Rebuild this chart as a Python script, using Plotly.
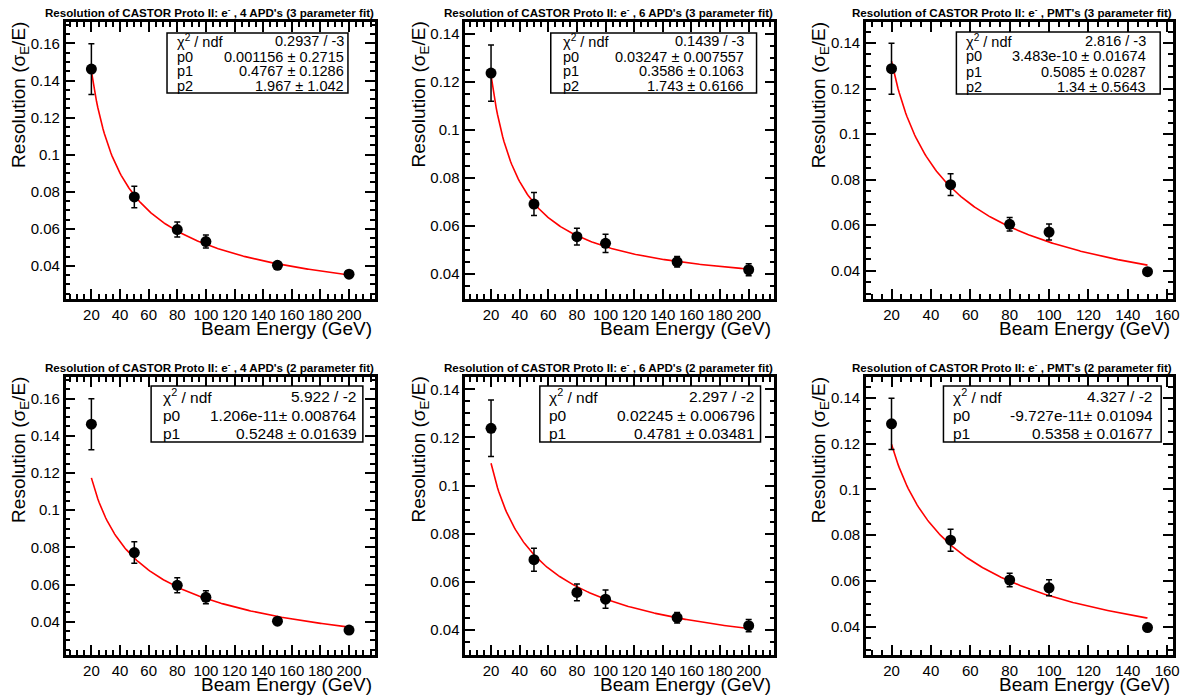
import numpy as np
import plotly.graph_objects as go

# ---------------- data ----------------
energy_apd = [20, 50, 80, 100, 150, 200]
energy_pmt = [20, 50, 80, 100, 150]

res_4apd = [0.1462, 0.0772, 0.0596, 0.0531, 0.0403, 0.0355]
err_4apd = [0.0137, 0.0058, 0.0040, 0.0035, 0.0015, 0.0012]

res_6apd = [0.1238, 0.0692, 0.0556, 0.0528, 0.0451, 0.0418]
err_6apd = [0.0117, 0.0048, 0.0035, 0.0038, 0.0022, 0.0025]

res_pmt = [0.1287, 0.0778, 0.0604, 0.0570, 0.0396]
err_pmt = [0.0112, 0.0048, 0.0030, 0.0035, 0.0010]

# fit parameters shown in the stat boxes: sigma/E = sqrt(p0^2 + p1^2/E + p2^2/E^2)
fit3_4apd = [0.001156, 0.4767, 1.967]
fit3_6apd = [0.03247, 0.3586, 1.743]
fit3_pmt = [3.483e-10, 0.5085, 1.34]
fit2_4apd = [1.206e-11, 0.5248]
fit2_6apd = [0.02245, 0.4781]
fit2_pmt = [-9.727e-11, 0.5358]

stat3_4apd = [("χ<sup>2</sup> / ndf", "0.2937 / -3"), ("p0", "0.001156 ± 0.2715"),
              ("p1", "0.4767 ± 0.1286"), ("p2", "1.967 ± 1.042")]
stat3_6apd = [("χ<sup>2</sup> / ndf", "0.1439 / -3"), ("p0", "0.03247 ± 0.007557"),
              ("p1", "0.3586 ± 0.1063"), ("p2", "1.743 ± 0.6166")]
stat3_pmt = [("χ<sup>2</sup> / ndf", "2.816 / -3"), ("p0", "3.483e-10 ± 0.01674"),
             ("p1", "0.5085 ± 0.0287"), ("p2", "1.34 ± 0.5643")]
stat2_4apd = [("χ<sup>2</sup> / ndf", "5.922 / -2"), ("p0", "1.206e-11± 0.008764"),
              ("p1", "0.5248 ± 0.01639")]
stat2_6apd = [("χ<sup>2</sup> / ndf", "2.297 / -2"), ("p0", "0.02245 ± 0.006796"),
              ("p1", "0.4781 ± 0.03481")]
stat2_pmt = [("χ<sup>2</sup> / ndf", "4.327 / -2"), ("p0", "-9.727e-11± 0.01094"),
             ("p1", "0.5358 ± 0.01677")]

titles = [
    "Resolution of CASTOR Proto II: e<sup>-</sup> , 4 APD's (3 parameter fit)",
    "Resolution of CASTOR Proto II: e<sup>-</sup> , 6 APD's (3 parameter fit)",
    "Resolution of CASTOR Proto II: e<sup>-</sup> , PMT's (3 parameter fit)",
    "Resolution of CASTOR Proto II: e<sup>-</sup> , 4 APD's (2 parameter fit)",
    "Resolution of CASTOR Proto II: e<sup>-</sup> , 6 APD's (2 parameter fit)",
    "Resolution of CASTOR Proto II: e<sup>-</sup> , PMT's (2 parameter fit)",
]

x_ticks_apd = [20, 40, 60, 80, 100, 120, 140, 160, 180, 200]
x_ticks_pmt = [20, 40, 60, 80, 100, 120, 140, 160]
y_ticks_4apd = [0.04, 0.06, 0.08, 0.1, 0.12, 0.14, 0.16]
y_ticks_6 = [0.04, 0.06, 0.08, 0.1, 0.12, 0.14]
y_tick_text_4apd = ["0.04", "0.06", "0.08", "0.1", "0.12", "0.14", "0.16"]
y_tick_text_6 = ["0.04", "0.06", "0.08", "0.1", "0.12", "0.14"]

x_title = "Beam Energy (GeV)"
y_title = "Resolution (σ<sub>E</sub>/E)"

# ---------------- layout geometry (pixels) ----------------
W, H = 1198, 700
FONT = "Liberation Sans, Arial, Helvetica, sans-serif"
col_frames = [(66, 377), (468, 779), (871, 1180)]
row_frames = [(22, 299), (377, 655)]
x_ranges = [[2, 218], [2, 218], [7, 163]]
y_ranges = [[0.0221, 0.1716], [0.0296, 0.1451], [0.0276, 0.1492]]
stat_boxes = [
    [(168, 33, 350, 93, 176, 348), (554, 33, 761, 93, 564, 750), (962, 32, 1167, 94, 970, 1155)],
    [(152, 386, 365, 442, 162, 361), (543, 386, 765, 442, 550, 761), (949, 386, 1168, 442, 957, 1162)],
]


def px(x):
    return x / W


def py(y):
    return 1 - y / H


def fit_curve(params, e):
    e = np.asarray(e, dtype=float)
    s = params[0] ** 2 + params[1] ** 2 / e
    if len(params) > 2:
        s = s + params[2] ** 2 / e ** 2
    return np.sqrt(s)


series = [
    (energy_apd, res_4apd, err_4apd),
    (energy_apd, res_6apd, err_6apd),
    (energy_pmt, res_pmt, err_pmt),
]
fits = [[fit3_4apd, fit3_6apd, fit3_pmt], [fit2_4apd, fit2_6apd, fit2_pmt]]
stats = [[stat3_4apd, stat3_6apd, stat3_pmt], [stat2_4apd, stat2_6apd, stat2_pmt]]
xticks = [x_ticks_apd, x_ticks_apd, x_ticks_pmt]
yticks = [(y_ticks_4apd, y_tick_text_4apd), (y_ticks_6, y_tick_text_6), (y_ticks_6, y_tick_text_6)]

fig = go.Figure()
layout = dict(
    width=W, height=H, margin=dict(l=0, r=0, t=0, b=0),
    paper_bgcolor="white", plot_bgcolor="white", showlegend=False,
    font=dict(family=FONT, color="black"),
)
annotations = []
shapes = []

idx = 0
for r in range(2):
    for c in range(3):
        idx += 1
        xa = "xaxis" if idx == 1 else f"xaxis{idx}"
        ya = "yaxis" if idx == 1 else f"yaxis{idx}"
        xr = "x" if idx == 1 else f"x{idx}"
        yr = "y" if idx == 1 else f"y{idx}"
        x0, x1 = col_frames[c]
        y0, y1 = row_frames[r]
        e, v, err = series[c]

        # fit curve
        ef = np.linspace(min(e), max(e), 200)
        fig.add_trace(go.Scatter(x=ef, y=fit_curve(fits[r][c], ef), mode="lines",
                                 line=dict(color="#ff0000", width=1.6),
                                 xaxis=xr, yaxis=yr, hoverinfo="skip"))
        # data points
        fig.add_trace(go.Scatter(x=e, y=v, mode="markers",
                                 marker=dict(color="black", size=11),
                                 error_y=dict(type="data", array=err, color="black",
                                              thickness=1.5, width=3),
                                 xaxis=xr, yaxis=yr))

        layout[xa] = dict(
            domain=[px(x0), px(x1)], anchor=yr, range=x_ranges[c],
            showline=True, linecolor="black", linewidth=2.5, mirror="allticks",
            ticks="inside", ticklen=10, tickwidth=2, tickcolor="black",
            tickvals=xticks[c], ticktext=[str(t) for t in xticks[c]],
            tickfont=dict(size=15, family=FONT, color="black"),
            minor=dict(ticks="inside", ticklen=5, tickwidth=1.5, tickcolor="black",
                       dtick=5, tick0=0),
            showgrid=False, zeroline=False,
        )
        layout[ya] = dict(
            domain=[py(y1), py(y0)], anchor=xr, range=y_ranges[c],
            showline=True, linecolor="black", linewidth=2.5, mirror="allticks",
            ticks="inside", ticklen=10, tickwidth=2, tickcolor="black",
            tickvals=yticks[c][0], ticktext=yticks[c][1],
            tickfont=dict(size=15, family=FONT, color="black"),
            minor=dict(ticks="inside", ticklen=5, tickwidth=1.5, tickcolor="black",
                       dtick=0.005, tick0=0),
            showgrid=False, zeroline=False,
        )

        # panel title (right-aligned to frame)
        annotations.append(dict(text="<b>" + titles[idx - 1] + "</b>", xref="paper", yref="paper",
                                x=px(x1 + 1), y=py(y0 - 10), xanchor="right", yanchor="middle",
                                showarrow=False, font=dict(size=11.6, family=FONT)))
        # axis titles
        annotations.append(dict(text=x_title, xref="paper", yref="paper",
                                x=px(x1 - 1), y=py(y1 + 29), xanchor="right", yanchor="middle",
                                showarrow=False, font=dict(size=19, family=FONT)))
        annotations.append(dict(text=y_title, xref="paper", yref="paper",
                                x=px(x0 - 46), y=py(y0 - 2), xanchor="center", yanchor="top",
                                textangle=-90, showarrow=False, font=dict(size=19, family=FONT)))

        # stat box
        bx0, by0, bx1, by1, tl, tr = stat_boxes[r][c]
        shapes.append(dict(type="rect", xref="paper", yref="paper",
                           x0=px(bx0), x1=px(bx1), y0=py(by1), y1=py(by0),
                           line=dict(color="black", width=1.5), fillcolor="white", layer="above"))
        rows = stats[r][c]
        n = len(rows)
        fs = 14.5 if n == 4 else 15.5
        rh = (by1 - by0) / n
        for i, (name, val) in enumerate(rows):
            yc = by0 + rh * (i + 0.5) + 1
            annotations.append(dict(text=name, xref="paper", yref="paper", x=px(tl), y=py(yc),
                                    xanchor="left", yanchor="middle", showarrow=False,
                                    font=dict(size=fs, family=FONT)))
            annotations.append(dict(text=val, xref="paper", yref="paper", x=px(tr), y=py(yc),
                                    xanchor="right", yanchor="middle", showarrow=False,
                                    font=dict(size=fs, family=FONT)))

layout["annotations"] = annotations
layout["shapes"] = shapes
fig.update_layout(**layout)
fig.write_html("out.html", config={"displayModeBar": False},
               post_script="document.body.style.margin='0';document.body.style.overflow='hidden';")
